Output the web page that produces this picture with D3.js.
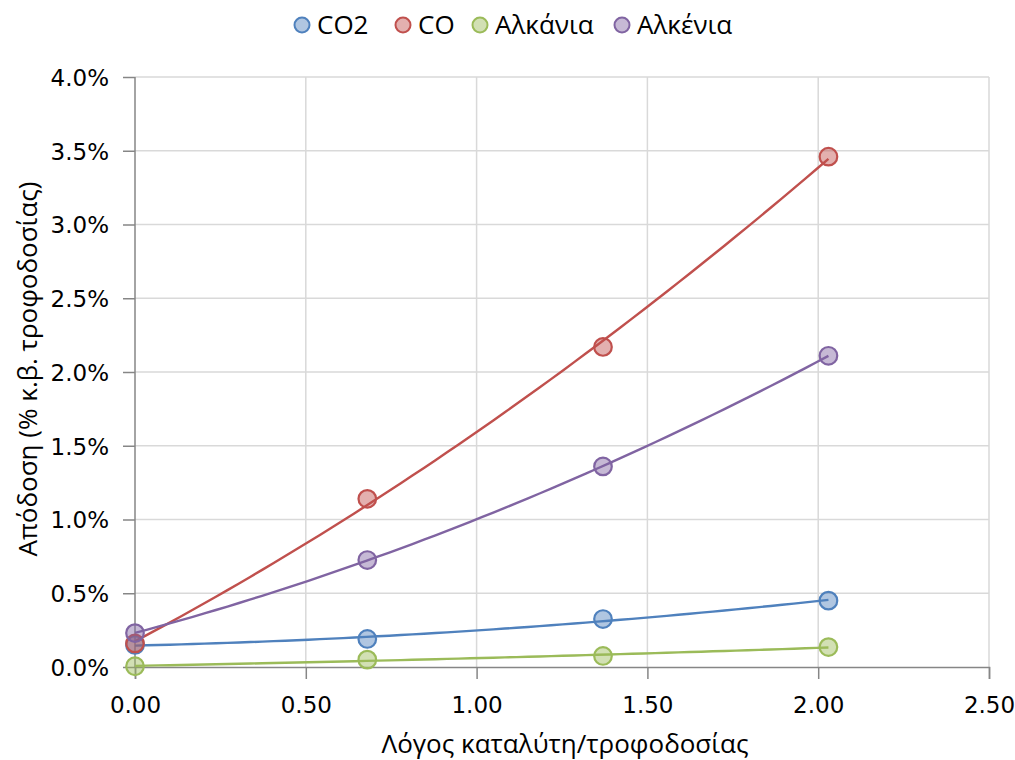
<!DOCTYPE html>
<html>
<head>
<meta charset="utf-8">
<script src="https://cdn.jsdelivr.net/npm/d3@7"></script>
<style>
  html, body { margin: 0; padding: 0; background: #fff; }
  svg { display: block; }
</style>
</head>
<body>
<svg id="chart" width="1015" height="760"></svg>
<script>
// Catalyst/feed ratio and product yields (% w/w of feed)
const ratios = [0.0, 0.68, 1.37, 2.03];
const seriesNames = ["CO2", "CO", "Αλκάνια", "Αλκένια"];
const co2Yield = [0.0015, 0.0019, 0.00325, 0.0045];
const coYield = [0.0016, 0.0114, 0.0217, 0.0346];
const alkaneYield = [0.00005, 0.0005, 0.00075, 0.00135];
const alkeneYield = [0.0023, 0.00725, 0.0136, 0.0211];
const seriesColors = ["#4f81bd", "#c0504d", "#9bbb59", "#8064a2"];
const xTicks = [0, 0.5, 1.0, 1.5, 2.0, 2.5];
const yTicks = [0, 0.005, 0.01, 0.015, 0.02, 0.025, 0.03, 0.035, 0.04];
const xTitle = "Λόγος καταλύτη/τροφοδοσίας";
const yTitle = "Απόδοση (% κ.β. τροφοδοσίας)";

const series = [co2Yield, coYield, alkaneYield, alkeneYield].map((vals, i) => ({
  name: seriesNames[i],
  color: seriesColors[i],
  points: vals.map((v, j) => ({ x: ratios[j], y: v }))
}));

const svg = d3.select("#chart");
const margin = { left: 135, right: 26, top: 77, bottom: 93 };
const W = 1015, H = 760;
const x = d3.scaleLinear().domain([0, 2.5]).range([margin.left, W - margin.right]);
const y = d3.scaleLinear().domain([0, 0.04]).range([H - margin.bottom, margin.top]);

const tickFont = "'DejaVu Sans', Verdana, sans-serif";
const titleFont = "'Open Sans', 'Noto Sans', sans-serif";

// Gridlines
const grid = svg.append("g");
grid.selectAll("line.h").data(yTicks.slice(1)).join("line")
  .attr("x1", x(0)).attr("x2", x(2.5))
  .attr("y1", d => y(d)).attr("y2", d => y(d))
  .attr("stroke", "#d9d9d9").attr("stroke-width", 1.5);
grid.selectAll("line.v").data(xTicks.slice(1)).join("line")
  .attr("y1", y(0)).attr("y2", y(0.04))
  .attr("x1", d => x(d)).attr("x2", d => x(d))
  .attr("stroke", "#d9d9d9").attr("stroke-width", 1.5);

// Axes
const yAxis = d3.axisLeft(y).tickValues(yTicks).tickFormat(d3.format(".1%")).tickSize(12).tickPadding(14);
const xAxis = d3.axisBottom(x).tickValues(xTicks).tickFormat(d3.format(".2f")).tickSize(12);

const gy = svg.append("g").attr("transform", `translate(${x(0)},0)`).call(yAxis);
const gx = svg.append("g").attr("transform", `translate(0,${y(0)})`).call(xAxis);
[gx, gy].forEach(g => {
  g.selectAll("path.domain").attr("stroke", "#868686").attr("stroke-width", 1.5);
  g.selectAll(".tick line").attr("stroke", "#868686").attr("stroke-width", 1.5);
  g.selectAll(".tick text").attr("fill", "#000").style("font-family", tickFont).style("font-size", "23px");
});
gy.select("path.domain").attr("d", `M0,${y(0.04)}V${y(0)}`);
gy.selectAll(".tick text").attr("dy", "0.36em");
gx.selectAll(".tick text").attr("y", 38).attr("dy", "0.36em");

// Quadratic least-squares trendline for each series
function quadFit(pts) {
  let s = [0, 0, 0, 0, 0], t = [0, 0, 0];
  pts.forEach(p => {
    for (let k = 0; k <= 4; k++) s[k] += Math.pow(p.x, k);
    for (let k = 0; k <= 2; k++) t[k] += Math.pow(p.x, k) * p.y;
  });
  const A = [[s[0], s[1], s[2]], [s[1], s[2], s[3]], [s[2], s[3], s[4]]];
  const b = t.slice();
  for (let i = 0; i < 3; i++) {
    for (let r = i + 1; r < 3; r++) {
      const f = A[r][i] / A[i][i];
      for (let c = i; c < 3; c++) A[r][c] -= f * A[i][c];
      b[r] -= f * b[i];
    }
  }
  const c = [0, 0, 0];
  for (let i = 2; i >= 0; i--) {
    let sum = b[i];
    for (let k = i + 1; k < 3; k++) sum -= A[i][k] * c[k];
    c[i] = sum / A[i][i];
  }
  return xv => c[0] + c[1] * xv + c[2] * xv * xv;
}

const line = d3.line().x(d => x(d.x)).y(d => y(d.y));
const trends = svg.append("g");
series.forEach(s => {
  const f = quadFit(s.points);
  const x0 = s.points[0].x, x1 = s.points[s.points.length - 1].x;
  const samples = d3.range(0, 61).map(i => {
    const xv = x0 + (x1 - x0) * i / 60;
    return { x: xv, y: f(xv) };
  });
  trends.append("path").datum(samples)
    .attr("d", line).attr("fill", "none")
    .attr("stroke", s.color).attr("stroke-width", 2.4);
});

// Markers
const markers = svg.append("g");
series.forEach(s => {
  markers.selectAll(null).data(s.points).join("circle")
    .attr("cx", d => x(d.x)).attr("cy", d => y(d.y)).attr("r", 8.8)
    .attr("fill", s.color).attr("fill-opacity", 0.45)
    .attr("stroke", s.color).attr("stroke-width", 2.2);
});

// Legend
const legendX = [302, 403, 480, 622];
const legend = svg.append("g");
series.forEach((s, i) => {
  const g = legend.append("g").attr("transform", `translate(${legendX[i]},25)`);
  g.append("circle").attr("r", 7.5)
    .attr("fill", s.color).attr("fill-opacity", 0.45)
    .attr("stroke", s.color).attr("stroke-width", 2);
  g.append("text").attr("x", 15).attr("dy", "0.36em")
    .style("font-family", titleFont).style("font-size", "26px").attr("fill", "#000")
    .text(s.name);
});

// Axis titles
svg.append("text")
  .attr("x", (x(0) + x(2.5)) / 2 + 3).attr("y", 753)
  .attr("text-anchor", "middle")
  .style("font-family", titleFont).style("font-size", "26px").attr("fill", "#000")
  .text(xTitle);
svg.append("text")
  .attr("transform", `translate(37,${(y(0) + y(0.04)) / 2 - 3}) rotate(-90)`)
  .attr("text-anchor", "middle")
  .style("font-family", titleFont).style("font-size", "26px").attr("fill", "#000")
  .text(yTitle);
</script>
</body>
</html>
